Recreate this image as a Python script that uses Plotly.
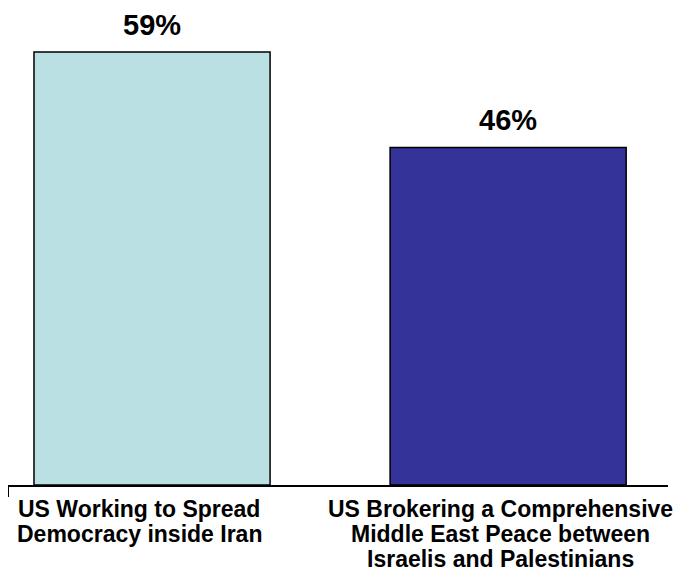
import plotly.graph_objects as go

category_lines = [["US Working to Spread", "Democracy inside Iran"],
                  ["US Brokering a Comprehensive", "Middle East Peace between",
                   "Israelis and Palestinians"]]
values = [59, 46]
value_labels = ["59%", "46%"]
colors = ["#BAE0E3", "#333399"]
label_xshift = [-13, -8]

xpos = [0, 1]
x_range = [-0.4045, 1.449]
FONT = "Liberation Sans, Arial, sans-serif"

fig = go.Figure()
fig.add_trace(go.Bar(
    x=xpos, y=values, width=0.663,
    marker=dict(color=colors, line=dict(color="black", width=1.5)),
    hoverinfo="skip",
))

for xi, v, vl in zip(xpos, values, value_labels):
    fig.add_annotation(x=xi, y=v, xref="x", yref="y", text="<b>" + vl + "</b>",
                       showarrow=False, yanchor="bottom", xanchor="center", yshift=9,
                       font=dict(family=FONT, size=29, color="black"))

for xi, lines, xs in zip(xpos, category_lines, label_xshift):
    for k, line in enumerate(lines):
        fig.add_annotation(x=xi, y=0, xref="x", yref="y", text="<b>" + line + "</b>",
                           showarrow=False, yanchor="top", xanchor="center",
                           xshift=xs, yshift=-9 - 25 * k,
                           font=dict(family=FONT, size=23, color="black"))

fig.update_layout(
    width=683, height=576,
    margin=dict(l=0, r=23, t=32, b=99),
    plot_bgcolor="white", paper_bgcolor="white",
    showlegend=False,
    xaxis=dict(range=x_range, showgrid=False, zeroline=False, showline=True, linecolor="black",
               linewidth=1.5, tickvals=[x_range[0]], ticktext=[""], ticks="outside", ticklen=10,
               tickcolor="black", tickwidth=1.5, automargin=False),
    yaxis=dict(range=[0, 60.64], visible=False, automargin=False),
)

fig.write_html("out.html")
